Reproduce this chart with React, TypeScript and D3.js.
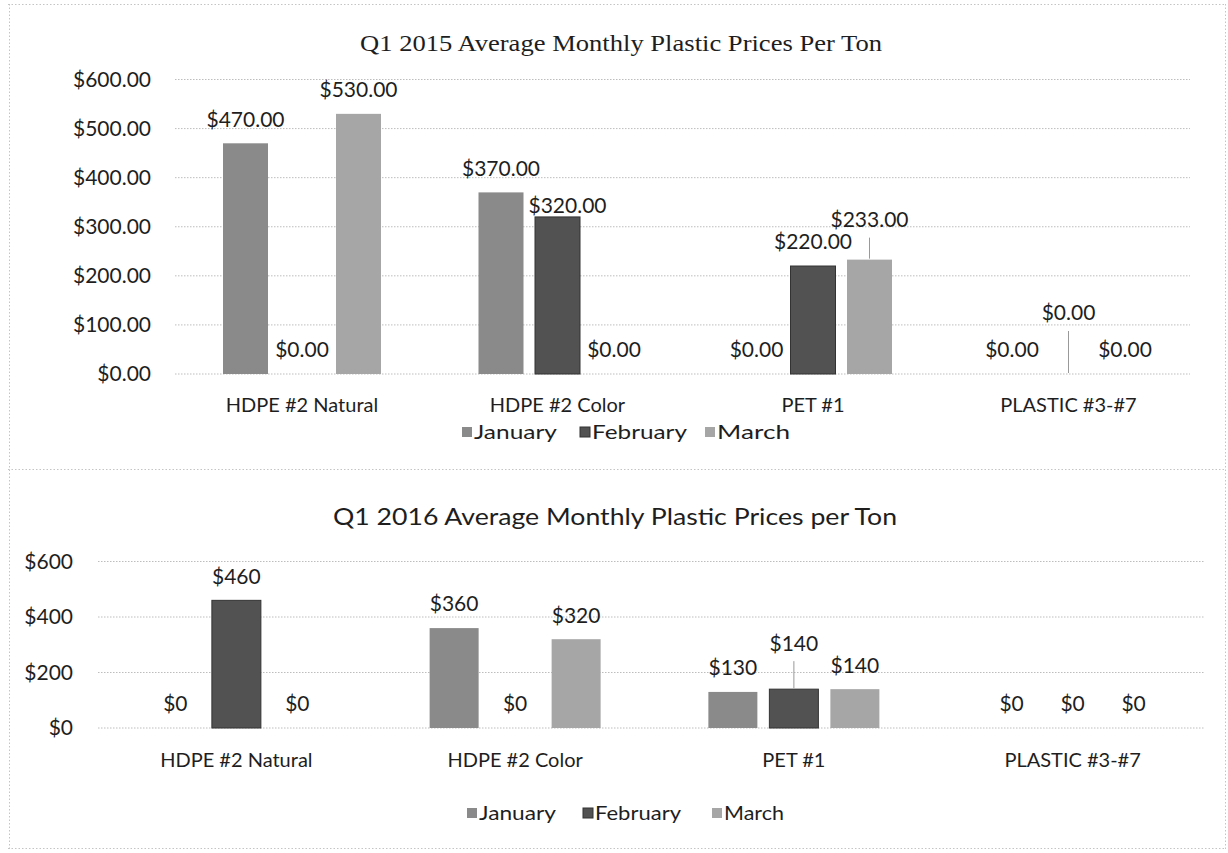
import React from "react";
import * as d3 from "d3";

const categories = ["HDPE #2 Natural", "HDPE #2 Color", "PET #1", "PLASTIC #3-#7"];
const months = ["January", "February", "March"];

const jan2015 = [470, 370, 0, 0];
const feb2015 = [0, 320, 220, 0];
const mar2015 = [530, 0, 233, 0];

const jan2016 = [0, 360, 130, 0];
const feb2016 = [460, 0, 140, 0];
const mar2016 = [0, 320, 140, 0];

const ticks2015 = [0, 100, 200, 300, 400, 500, 600];
const ticks2016 = [0, 200, 400, 600];

const title2015 = "Q1 2015 Average Monthly Plastic Prices Per Ton";
const title2016 = "Q1 2016 Average Monthly Plastic Prices per Ton";

// label layout tweaks (manually dragged labels in the original)
type Adj = { c: number; m: number; dx: number; dy: number; leader?: boolean };
const adj2015: Adj[] = [
  { c: 1, m: 1, dx: 10, dy: 13 },
  { c: 2, m: 2, dx: 0, dy: -16, leader: true },
  { c: 3, m: 1, dx: 0, dy: -37, leader: true },
];
const adj2016: Adj[] = [{ c: 2, m: 1, dx: 0, dy: -22, leader: true }];

const colors = ["#8a8a8a", "#525252", "#a6a6a6"];
const FONT = "Lato, 'Open Sans', sans-serif";
const TXT = "#1e1e1e";
const GRID = "#bdbdbd";

type PanelProps = {
  series: number[][];
  ticks: number[];
  xRange: [number, number];
  yRange: [number, number];
  gridRange: [number, number];
  step: number;
  barW: number;
  fmt: (v: number) => string;
  axisRight: number;
  catY: number;
  adj: Adj[];
};

function Panel(p: PanelProps) {
  const x = d3.scaleBand<string>().domain(categories).range(p.xRange).padding(0);
  const inner = d3
    .scaleBand<string>()
    .domain(months)
    .range([-1.5 * p.step, 1.5 * p.step])
    .paddingInner(1 - p.barW / p.step)
    .paddingOuter((1 - p.barW / p.step) / 2);
  const y = d3.scaleLinear().domain([0, 600]).range(p.yRange);
  const els: React.ReactNode[] = [];
  p.ticks.forEach((t) => {
    els.push(
      <line key={"g" + t} x1={p.gridRange[0]} x2={p.gridRange[1]} y1={y(t)} y2={y(t)} stroke={GRID} strokeWidth={1} strokeDasharray="1.5,1.5" />
    );
    els.push(
      <text key={"t" + t} x={p.axisRight} y={y(t)} dy="0.35em" textAnchor="end" fontFamily={FONT} fontSize={21} fill={TXT}>
        {p.fmt(t)}
      </text>
    );
  });
  categories.forEach((c, ci) => {
    const cx = (x(c) as number) + x.bandwidth() / 2;
    els.push(
      <text key={"c" + ci} x={cx} y={p.catY} dy="0.35em" textAnchor="middle" fontFamily={FONT} fontSize={20} fill={TXT}>
        {c}
      </text>
    );
    months.forEach((m, mi) => {
      const v = p.series[mi][ci];
      const bx = cx + (inner(m) as number);
      const bc = bx + inner.bandwidth() / 2;
      if (v > 0) {
        els.push(
          <rect key={"b" + ci + mi} x={bx} y={y(v)} width={inner.bandwidth()} height={y(0) - y(v)} fill={colors[mi]} stroke={mi === 1 ? "#333" : "none"} strokeWidth={1} />
        );
      }
      const a = p.adj.find((q) => q.c === ci && q.m === mi);
      const ly = y(v) - 24 + (a ? a.dy : 0);
      const lx = bc + (a ? a.dx : 0);
      if (a && a.leader) {
        els.push(
          <line key={"l" + ci + mi} x1={bc} x2={bc} y1={ly + 18} y2={y(v) - 1} stroke="#999" strokeWidth={1} />
        );
      }
      els.push(
        <text key={"v" + ci + mi} x={lx} y={ly} dy="0.35em" textAnchor="middle" fontFamily={FONT} fontSize={21} fill={TXT}>
          {p.fmt(v)}
        </text>
      );
    });
  });
  return <g>{els}</g>;
}

function Legend({ y, xs, widths, fs }: { y: number; xs: number[]; widths: number[]; fs: number }) {
  return (
    <g>
      {months.map((m, i) => (
        <g key={m}>
          <rect x={xs[i]} y={y - 5} width={10} height={10} fill={colors[i]} stroke={i === 1 ? "#333" : "none"} />
          <text x={xs[i] + 12} y={y} dy="0.35em" fontFamily={FONT} fontSize={fs} fill={TXT} textLength={widths[i]} lengthAdjust="spacingAndGlyphs">
            {m}
          </text>
        </g>
      ))}
    </g>
  );
}

export default function App() {
  const fmt2 = (v: number) => d3.format("$,.2f")(v);
  const fmt0 = (v: number) => d3.format("$,.0f")(v);
  return (
    <svg width={1228} height={853} style={{ position: "absolute", left: 0, top: 0, background: "#fff" }}>
      <rect x={0} y={0} width={1228} height={853} fill="#fff" />
      {/* frames */}
      <g stroke="#c4c4c4" strokeWidth={1} strokeDasharray="1.5,2" fill="none">
        <line x1={8} x2={1226} y1={4.5} y2={4.5} />
        <line x1={9.5} x2={9.5} y1={4} y2={849} />
        <line x1={1225.5} x2={1225.5} y1={4} y2={849} />
        <line x1={8} x2={1226} y1={469.5} y2={469.5} />
        <line x1={8} x2={1226} y1={848.5} y2={848.5} />
      </g>

      <text x={621} y={43} dy="0.35em" textAnchor="middle" fontFamily="'Liberation Serif', serif" fontSize={24} fill={TXT} textLength={522} lengthAdjust="spacingAndGlyphs">
        {title2015}
      </text>
      <Panel
        series={[jan2015, feb2015, mar2015]}
        ticks={ticks2015}
        xRange={[174.25, 1196.25]}
        yRange={[374, 79.5]}
        gridRange={[175, 1190]}
        step={56.5}
        barW={45}
        fmt={fmt2}
        axisRight={151}
        catY={405}
        adj={adj2015}
      />
      <Legend y={432} xs={[462, 580, 705]} widths={[83, 95, 73]} fs={20} />

      <text x={615} y={517} dy="0.35em" textAnchor="middle" fontFamily={FONT} fontSize={23} fill={TXT} textLength={564} lengthAdjust="spacingAndGlyphs">
        {title2016}
      </text>
      <Panel
        series={[jan2016, feb2016, mar2016]}
        ticks={ticks2016}
        xRange={[97, 1212]}
        yRange={[728, 561.5]}
        gridRange={[98, 1204]}
        step={61}
        barW={49}
        fmt={fmt0}
        axisRight={73}
        catY={760}
        adj={adj2016}
      />
      <Legend y={813} xs={[467, 583, 712]} widths={[77, 86, 60]} fs={20} />
    </svg>
  );
}
